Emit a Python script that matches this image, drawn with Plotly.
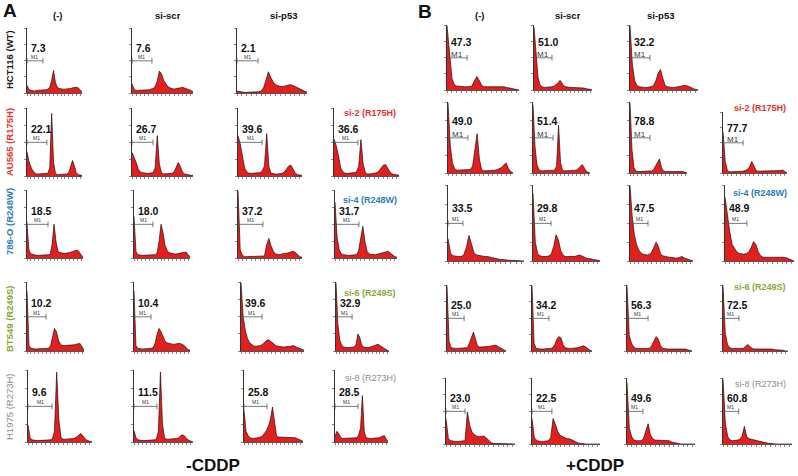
import plotly.graph_objects as go

# ---- labels ----
col_labels = ["(-)", "si-scr", "si-p53"]
cell_lines = ["HCT116 (WT)", "AU565 (R175H)", "786-O (R248W)", "BT549 (R249S)", "H1975 (R273H)"]
mut_sirna = [None, "si-2 (R175H)", "si-4 (R248W)", "si-6 (R249S)", "si-8 (R273H)"]
line_colors = ["#1a1a1a", "#e8312a", "#2a7bbf", "#86a83a", "#8c8c8c"]
treatments = ["-CDDP", "+CDDP"]

# ---- % cells in M1 gate (rows = cell lines; cols = (-), si-scr, si-p53, si-mut) ----
m1_minus = [[7.3, 7.6, 2.1], [22.1, 26.7, 39.6, 36.6], [18.5, 18.0, 37.2, 31.7],
            [10.2, 10.4, 39.6, 32.9], [9.6, 11.5, 25.8, 28.5]]
m1_plus = [[47.3, 51.0, 32.2], [49.0, 51.4, 78.8, 77.7], [33.5, 29.8, 47.5, 48.9],
           [25.0, 34.2, 56.3, 72.5], [23.0, 22.5, 49.6, 60.8]]

# M1 gate upper bound (channel bin)
gate_minus = [[8.4, 9.5, 8.7], [10.5, 10.0, 10.9, 10.7], [10.9, 9.8, 11.3, 11.2],
              [9.7, 8.8, 9.7, 8.8], [10.9, 11.3, 11.3, 12.6]]
gate_plus = [[8.1, 9.0, 8.5], [8.9, 10.2, 10.2, 9.1], [5.7, 7.8, 8.3, 9.2],
             [8.4, 8.2, 9.4, 7.1], [8.0, 8.5, 6.8, 6.6]]

# ---- DNA content histograms (counts, % of axis max), 30 bins each ----
a_hct116 = [
    [12, 6, 4, 3, 3, 4, 4, 4, 5, 5, 5, 6, 9, 20, 35, 16, 9, 7, 6, 6, 6, 6, 7, 7, 8, 9, 9, 8, 5, 2],
    [14, 6, 4, 4, 4, 4, 5, 5, 5, 6, 7, 10, 18, 34, 30, 20, 14, 10, 8, 7, 6, 7, 7, 8, 9, 8, 7, 6, 4, 2],
    [3, 2, 2, 1, 1, 1, 1, 1, 1, 2, 3, 8, 20, 33, 24, 17, 13, 11, 10, 10, 11, 12, 13, 12, 10, 8, 6, 5, 3, 1],
]
a_au565 = [
    [36, 22, 14, 8, 5, 3, 3, 3, 3, 3, 3, 4, 12, 93, 20, 4, 2, 2, 2, 2, 2, 3, 5, 14, 23, 15, 5, 2, 1, 1],
    [35, 28, 20, 10, 6, 5, 4, 4, 4, 4, 5, 12, 60, 18, 5, 3, 3, 3, 3, 4, 6, 14, 20, 14, 6, 3, 2, 1, 1, 1],
    [60, 48, 30, 12, 6, 4, 4, 4, 4, 4, 5, 8, 15, 63, 14, 4, 3, 3, 3, 3, 4, 6, 10, 15, 16, 10, 4, 2, 1, 1],
    [55, 45, 30, 12, 6, 4, 4, 4, 4, 5, 6, 14, 54, 18, 5, 3, 3, 3, 4, 5, 7, 12, 16, 17, 12, 6, 3, 2, 1, 1],
]
a_786o = [
    [51, 12, 6, 5, 4, 4, 4, 4, 4, 4, 4, 4, 5, 20, 50, 25, 10, 8, 7, 7, 7, 7, 8, 9, 10, 11, 12, 9, 4, 1],
    [62, 10, 5, 4, 4, 4, 4, 4, 4, 4, 4, 5, 8, 25, 50, 38, 20, 12, 8, 7, 6, 6, 6, 7, 7, 8, 8, 9, 5, 2],
    [100, 12, 4, 2, 2, 2, 2, 2, 2, 2, 2, 2, 3, 20, 29, 18, 10, 6, 5, 5, 6, 6, 7, 8, 9, 10, 8, 5, 2, 1],
    [83, 30, 12, 6, 5, 4, 4, 4, 4, 4, 5, 10, 30, 47, 25, 10, 6, 5, 5, 5, 6, 6, 7, 8, 9, 10, 7, 4, 2, 1],
]
a_bt549 = [
    [88, 8, 4, 3, 3, 3, 3, 3, 3, 3, 3, 4, 8, 22, 33, 28, 16, 10, 8, 8, 8, 8, 8, 9, 9, 10, 10, 11, 6, 2],
    [88, 8, 4, 3, 3, 3, 3, 3, 3, 4, 5, 12, 25, 33, 28, 20, 15, 12, 11, 10, 10, 10, 11, 11, 11, 10, 8, 5, 2, 1],
    [100, 50, 30, 18, 12, 9, 7, 7, 7, 8, 10, 13, 16, 16, 13, 10, 8, 7, 6, 6, 6, 6, 6, 7, 8, 6, 5, 4, 2, 1],
    [100, 40, 17, 9, 6, 5, 5, 5, 5, 5, 6, 10, 25, 20, 9, 6, 5, 5, 5, 6, 7, 9, 10, 10, 8, 6, 4, 2, 1, 0],
]
a_h1975 = [
    [24, 5, 3, 2, 2, 2, 2, 2, 2, 2, 3, 4, 15, 98, 30, 6, 4, 4, 4, 4, 4, 5, 7, 10, 12, 8, 4, 2, 1, 0],
    [16, 6, 3, 2, 2, 2, 2, 2, 2, 2, 3, 4, 15, 98, 25, 6, 4, 4, 4, 4, 4, 5, 6, 9, 10, 8, 4, 2, 1, 0],
    [45, 15, 9, 6, 5, 5, 5, 6, 7, 8, 12, 16, 22, 32, 49, 30, 8, 7, 7, 7, 7, 6, 6, 6, 6, 6, 5, 4, 2, 1],
    [8, 15, 12, 7, 5, 5, 5, 5, 5, 5, 5, 5, 6, 10, 20, 65, 15, 6, 5, 5, 5, 5, 5, 6, 6, 7, 8, 9, 4, 1],
]
b_hct116 = [
    [100, 60, 18, 8, 6, 6, 5, 5, 5, 5, 6, 14, 21, 15, 7, 5, 5, 5, 5, 5, 5, 5, 6, 5, 4, 3, 2, 1, 1, 0],
    [98, 62, 20, 8, 5, 4, 4, 4, 4, 5, 6, 8, 11, 15, 10, 6, 5, 4, 4, 4, 4, 3, 3, 3, 3, 3, 2, 2, 1, 0],
    [100, 40, 14, 7, 5, 4, 4, 4, 4, 5, 7, 14, 26, 32, 18, 7, 5, 4, 4, 4, 5, 5, 6, 7, 7, 6, 4, 2, 1, 0],
]
b_au565 = [
    [100, 40, 14, 6, 4, 4, 4, 4, 4, 4, 5, 10, 35, 56, 20, 5, 3, 3, 3, 3, 3, 4, 5, 6, 8, 12, 14, 6, 2, 0],
    [97, 38, 12, 5, 3, 3, 3, 3, 3, 3, 3, 4, 10, 68, 15, 4, 3, 3, 3, 3, 3, 3, 4, 6, 9, 12, 8, 3, 1, 0],
    [100, 33, 8, 3, 2, 2, 2, 2, 2, 2, 2, 3, 5, 10, 17, 20, 8, 3, 2, 2, 2, 3, 3, 3, 3, 3, 2, 2, 1, 0],
    [68, 19, 4, 2, 2, 2, 2, 2, 2, 3, 4, 6, 10, 19, 12, 4, 3, 3, 3, 3, 3, 3, 3, 3, 3, 4, 4, 5, 3, 0],
]
b_786o = [
    [30, 10, 7, 6, 6, 6, 8, 18, 34, 22, 10, 8, 7, 6, 6, 6, 5, 4, 3, 2, 2, 2, 1, 1, 1, 1, 1, 0, 0, 0],
    [90, 25, 10, 7, 6, 6, 6, 7, 10, 20, 35, 28, 14, 8, 6, 6, 6, 6, 6, 7, 8, 7, 5, 4, 3, 3, 2, 2, 1, 0],
    [100, 60, 35, 22, 15, 11, 9, 8, 8, 9, 12, 18, 25, 20, 10, 7, 6, 5, 5, 5, 4, 4, 4, 5, 6, 4, 3, 2, 1, 0],
    [85, 58, 39, 22, 16, 12, 10, 9, 9, 10, 12, 18, 26, 22, 12, 7, 5, 5, 5, 5, 5, 5, 5, 6, 6, 5, 4, 3, 1, 0],
]
b_bt549 = [
    [100, 15, 5, 4, 4, 4, 4, 4, 4, 4, 5, 12, 22, 29, 18, 8, 6, 6, 6, 6, 7, 7, 8, 9, 9, 7, 5, 3, 1, 0],
    [100, 12, 4, 3, 3, 3, 3, 3, 3, 4, 5, 10, 18, 22, 20, 10, 5, 4, 4, 4, 4, 4, 5, 6, 7, 8, 6, 3, 1, 0],
    [100, 24, 12, 6, 4, 4, 3, 3, 3, 3, 4, 8, 15, 22, 18, 8, 4, 3, 3, 3, 3, 3, 3, 3, 4, 4, 3, 2, 1, 0],
    [100, 28, 10, 5, 4, 4, 3, 3, 3, 4, 7, 10, 7, 4, 3, 3, 3, 3, 3, 4, 4, 3, 3, 2, 2, 2, 1, 1, 0, 0],
]
b_h1975 = [
    [39, 8, 5, 4, 4, 4, 4, 4, 5, 49, 28, 18, 14, 12, 11, 12, 12, 9, 5, 2, 1, 1, 1, 0, 0, 0, 0, 0, 0, 0],
    [39, 10, 5, 4, 4, 4, 4, 5, 10, 39, 30, 19, 13, 11, 9, 8, 8, 6, 4, 2, 1, 1, 0, 0, 0, 0, 0, 0, 0, 0],
    [94, 24, 11, 6, 5, 5, 5, 8, 18, 31, 14, 8, 6, 6, 6, 6, 6, 6, 5, 3, 2, 1, 0, 0, 0, 0, 0, 0, 0, 0],
    [99, 31, 11, 6, 5, 5, 6, 7, 12, 27, 11, 8, 7, 6, 5, 4, 3, 2, 1, 1, 1, 0, 0, 0, 0, 0, 0, 0, 0, 0],
]
hist_minus = [a_hct116, a_au565, a_786o, a_bt549, a_h1975]
hist_plus = [b_hct116, b_au565, b_786o, b_bt549, b_h1975]

# ---- layout: pixel boxes (ytop, ybottom, [(x0, x1[, ytop override]), ...]) ----
W, H = 798, 476
boxes_A = [
    (28, 93, [(27, 82), (132, 193), (237, 307)]),
    (108, 176, [(27, 82), (132, 193), (238, 302), (334, 399)]),
    (190, 258, [(27, 83), (134, 190), (238, 302), (335, 397)]),
    (282, 351, [(27, 84), (134, 190), (241, 304), (336, 389)]),
    (370, 442, [(28, 92), (134, 193), (244, 303), (335, 388)]),
]
boxes_B = [
    (25, 90, [(447, 519), (534, 592), (630, 698)]),
    (102, 173, [(448, 513), (533, 590), (630, 687), (723, 787, 112)]),
    (185, 261, [(448, 524), (533, 600), (630, 693), (725, 794)]),
    (285, 351, [(447, 506), (532, 592), (627, 692), (723, 788)]),
    (378, 444, [(446, 515), (532, 600), (627, 695), (723, 792)]),
]
FONT = "Arial, 'Liberation Sans', sans-serif"
RED = "#e21f1f"

fig = go.Figure()
n = 0


def add_hist(hist, gate, value, x0, x1, yt, yb, big_m1):
    global n
    n += 1
    key = "" if n == 1 else str(n)
    xa, ya = "x" + key, "y" + key
    bins = list(range(len(hist)))
    fig.add_trace(go.Scatter(
        x=bins, y=hist, mode="lines", fill="tozeroy", fillcolor=RED,
        line=dict(color="#2b0808", width=0.7), xaxis=xa, yaxis=ya,
        hoverinfo="skip", showlegend=False))
    fig.add_trace(go.Scatter(
        x=[0, gate], y=[50, 50], mode="lines+markers",
        line=dict(color="#555", width=0.8),
        marker=dict(symbol="line-ns-open", size=4, line=dict(color="#555", width=0.8)),
        xaxis=xa, yaxis=ya, hoverinfo="skip", showlegend=False))
    fig.layout["xaxis" + key] = dict(
        domain=[x0 / W, x1 / W], range=[0, len(hist) - 1], anchor=ya,
        showline=True, linecolor="#555", linewidth=1, ticks="outside", ticklen=2,
        tickcolor="#888", dtick=2, showticklabels=False, showgrid=False,
        zeroline=False, fixedrange=True)
    fig.layout["yaxis" + key] = dict(
        domain=[1 - yb / H, 1 - yt / H], range=[0, 101], anchor=xa,
        showline=True, linecolor="#333", linewidth=1, ticks="outside", ticklen=2,
        tickcolor="#888", dtick=25, showticklabels=False, showgrid=False,
        zeroline=False, fixedrange=True)
    fig.add_annotation(x=0, y=74 if big_m1 else 70, xref=xa, yref=ya,
                       text=f"<b>{value:.1f}</b>",
                       showarrow=False, xanchor="left", yanchor="middle", xshift=2,
                       font=dict(family=FONT, size=10.5, color="#111"))
    fig.add_annotation(x=gate / 2, y=50, xref=xa, yref=ya, text="M1",
                       showarrow=False, xanchor="center", yanchor="bottom",
                       yshift=-3 if big_m1 else -1,
                       font=dict(family=FONT, size=8 if big_m1 else 5, color="#333"))


def label(x, y, text, size, color, angle=0):
    fig.add_annotation(x=x / W, y=1 - y / H, xref="paper", yref="paper", text=text,
                       textangle=angle, showarrow=False, xanchor="center", yanchor="middle",
                       font=dict(family=FONT, size=size, color=color))


for hists, gates, vals, boxes, is_b in [(hist_minus, gate_minus, m1_minus, boxes_A, False),
                                        (hist_plus, gate_plus, m1_plus, boxes_B, True)]:
    for r, (yt, yb, cols) in enumerate(boxes):
        for c, cell in enumerate(cols):
            top = cell[2] if len(cell) > 2 else yt
            add_hist(hists[r][c], gates[r][c], vals[r][c], cell[0], cell[1], top, yb,
                     is_b and r < 2)

# row labels (panel A)
row_centers = [60, 142, 222, 319, 407]
for i, name in enumerate(cell_lines):
    label(9, row_centers[i], name if i == 4 else f"<b>{name}</b>", 9.5, line_colors[i], -90)

# mutant-specific siRNA labels
side_y = {"A": [None, 113, 200, 293, 378], "B": [None, 108, 193, 287, 384]}
side_x = {"A": 370, "B": 760}
for p in ["A", "B"]:
    for i in range(1, 5):
        txt = mut_sirna[i] if i == 4 else f"<b>{mut_sirna[i]}</b>"
        label(side_x[p], side_y[p][i], txt, 9, line_colors[i])

# column headers
head_x = {"A": [58, 168, 283], "B": [480, 568, 660]}
for p in ["A", "B"]:
    for j, lab in enumerate(col_labels):
        label(head_x[p][j], 16, f"<b>{lab}</b>", 9.5, "#111")

# panel letters and treatment titles
label(10, 10, "<b>A</b>", 19, "#111")
label(425, 11, "<b>B</b>", 19, "#111")
label(213, 465, f"<b>{treatments[0]}</b>", 17, "#111")
label(595, 465, f"<b>{treatments[1]}</b>", 17, "#111")

fig.update_layout(width=W, height=H, margin=dict(l=0, r=0, t=0, b=0),
                  paper_bgcolor="white", plot_bgcolor="white", showlegend=False)

fig.write_html("out.html", config={"displayModeBar": False},
               post_script="document.body.style.margin='0px';")
